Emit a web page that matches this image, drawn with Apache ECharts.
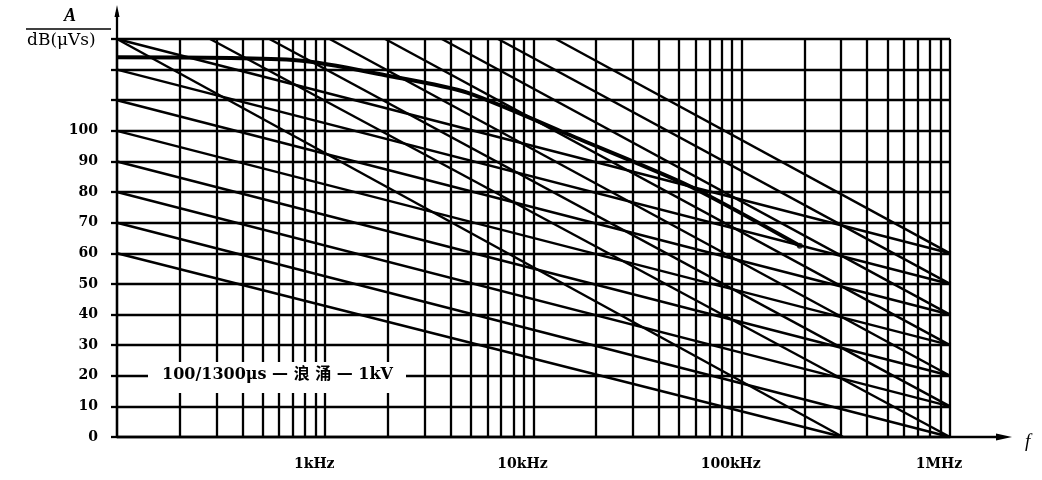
<!DOCTYPE html>
<html>
<head>
<meta charset="utf-8">
<script src="https://cdn.jsdelivr.net/npm/echarts@6/dist/echarts.min.js"></script>
<style>
  html, body { margin: 0; padding: 0; background: #fff; }
  #chart { width: 1042px; height: 480px; }
</style>
</head>
<body>
<div id="chart"></div>
<script>
// Frequency axis: decade labels
const freqTickValues = [1e3, 1e4, 1e5, 1e6];
const freqTickLabels = ['1kHz', '10kHz', '100kHz', '1MHz'];
// Level axis labels (dB(µVs)); grid continues to 130 without labels
const levelLabelMax = 100;

// Shallow reference lines: start at 100 Hz, end point on the right edge / bottom
const slowStartDb   = [60, 70, 80, 90, 100, 110, 120, 130];
const slowEndFreq   = [306000, 1e6, 1e6, 1e6, 1e6, 1e6, 1e6, 1e6];
const slowEndDb     = [0, 0, 10, 20, 30, 40, 50, 60];

// Steep reference lines: start on the 130 dB edge, end at right edge / bottom
const fastStartFreq = [100, 280, 540, 1050, 1940, 3630, 6760, 12800];
const fastStartDb   = [130, 130, 130, 130, 130, 130, 130, 130];
const fastEndFreq   = [306000, 1e6, 1e6, 1e6, 1e6, 1e6, 1e6, 1e6];
const fastEndDb     = [0, 0, 10, 20, 30, 40, 50, 60];

// Amplitude density of the 100/1300 µs, 1 kV surge
const spectrumFreq  = [100, 750, 2000, 4800, 17000, 56000, 190000];
const spectrumDb    = [124, 123, 118, 112.5, 97, 82, 62.5];

const INK = '#000';
const SERIF = '"DejaVu Serif", "Liberation Serif", serif';
const grid = { left: 117, top: 39, right: 92, bottom: 43 };

// vertical log grid: 1..9 x each decade, 100 Hz .. 1 MHz
const gridFreqs = [];
for (let d = 2; d < 6; d++) {
  for (let k = 1; k < 10; k++) gridFreqs.push(k * Math.pow(10, d));
}
gridFreqs.push(1e6);

function refLine(x0, y0, x1, y1, width) {
  return {
    type: 'line',
    data: [[x0, y0], [x1, y1]],
    symbol: 'none',
    clip: true,
    silent: true,
    lineStyle: { color: INK, width: width },
    z: 3
  };
}

const series = [];
slowStartDb.forEach((db, i) => {
  series.push(refLine(100, db, slowEndFreq[i], slowEndDb[i], 2.5));
});
fastStartFreq.forEach((f, i) => {
  series.push(refLine(f, fastStartDb[i], fastEndFreq[i], fastEndDb[i], 2.5));
});
series.push({
  type: 'line',
  data: spectrumFreq.map((f, i) => [f, spectrumDb[i]]),
  symbol: 'none',
  smooth: 0.25,
  silent: true,
  lineStyle: { color: INK, width: 4 },
  z: 4
});
series.push({
  type: 'scatter',
  data: [[spectrumFreq[spectrumFreq.length - 1], spectrumDb[spectrumDb.length - 1]]],
  symbol: 'circle',
  symbolSize: 6,
  itemStyle: { color: INK },
  silent: true,
  z: 5
});
// vertical grid lines carried as a mark line set
series[0].markLine = {
  silent: true,
  symbol: 'none',
  label: { show: false },
  lineStyle: { color: INK, width: 2.3, type: 'solid' },
  data: gridFreqs.map(f => ({ xAxis: f })),
  animation: false
};

const chart = echarts.init(document.getElementById('chart'), null, { renderer: 'canvas' });

const gx0 = grid.left, gy0 = grid.top;
const gx1 = 1042 - grid.right, gy1 = 480 - grid.bottom;

function label(text, left, top, size, extra) {
  return {
    type: 'text', z: 61, left: left, top: top,
    style: Object.assign({
      text: text, fontSize: size, fontFamily: SERIF, fontWeight: 'bold', fill: INK
    }, extra || {})
  };
}

chart.setOption({
  animation: false,
  backgroundColor: '#fff',
  grid: grid,
  xAxis: {
    type: 'log',
    logBase: 10,
    min: 100,
    max: 1e6,
    axisLine: { show: true, lineStyle: { color: INK, width: 2.3 } },
    axisTick: { show: false },
    splitLine: { show: false },
    minorSplitLine: { show: false },
    axisLabel: {
      margin: 20,
      color: INK,
      fontFamily: SERIF,
      fontWeight: 'bold',
      fontSize: 14,
      padding: [0, 22, 0, 0],
      formatter: v => {
        const e = Math.round(Math.log10(v));
        const idx = freqTickValues.findIndex(t => Math.round(Math.log10(t)) === e);
        return idx >= 0 ? freqTickLabels[idx] : '';
      }
    }
  },
  yAxis: {
    type: 'value',
    min: 0,
    max: 130,
    interval: 10,
    axisLine: { show: true, lineStyle: { color: INK, width: 2.3 } },
    axisTick: { show: true, length: 6, lineStyle: { color: INK, width: 2.3 } },
    splitLine: { show: true, lineStyle: { color: INK, width: 2.3 } },
    axisLabel: {
      margin: 19,
      color: INK,
      fontFamily: SERIF,
      fontWeight: 'bold',
      fontSize: 14,
      formatter: v => (v <= levelLabelMax ? String(v) : '')
    }
  },
  series: series,
  graphic: [
    // axis extensions with arrow heads
    { type: 'line', z: 50, shape: { x1: gx1, y1: gy1, x2: 1002, y2: gy1 }, style: { stroke: INK, lineWidth: 2.3 } },
    { type: 'polygon', z: 50, shape: { points: [[1012, gy1], [996, gy1 - 3.5], [996, gy1 + 3.5]] }, style: { fill: INK } },
    { type: 'line', z: 50, shape: { x1: gx0, y1: gy0, x2: gx0, y2: 12 }, style: { stroke: INK, lineWidth: 2.3 } },
    { type: 'polygon', z: 50, shape: { points: [[gx0, 5], [gx0 - 2.5, 17], [gx0 + 2.5, 17]] }, style: { fill: INK } },
    // axis names
    label('f', 1025, 432, 19, { fontStyle: 'italic', fontWeight: 'normal', fontFamily: '"Liberation Serif", serif' }),
    label('A', 64, 7, 18, { fontStyle: 'italic', fontFamily: '"Liberation Serif", serif' }),
    { type: 'line', z: 50, shape: { x1: 26, y1: 29, x2: 111, y2: 29 }, style: { stroke: INK, lineWidth: 1.5 } },
    label('dB(μVs)', 27, 32, 17, { fontWeight: 'normal', fontFamily: '"DejaVu Serif", serif' }),
    // curve caption on a white panel over the grid
    { type: 'rect', z: 60, shape: { x: 148, y: 362, width: 258, height: 31 }, style: { fill: '#fff' } },
    label('100/1300μs — 浪 涌 — 1kV', 162, 367, 16, { fontFamily: '"DejaVu Serif", "Noto Sans CJK SC", serif' })
  ]
});
</script>
</body>
</html>
